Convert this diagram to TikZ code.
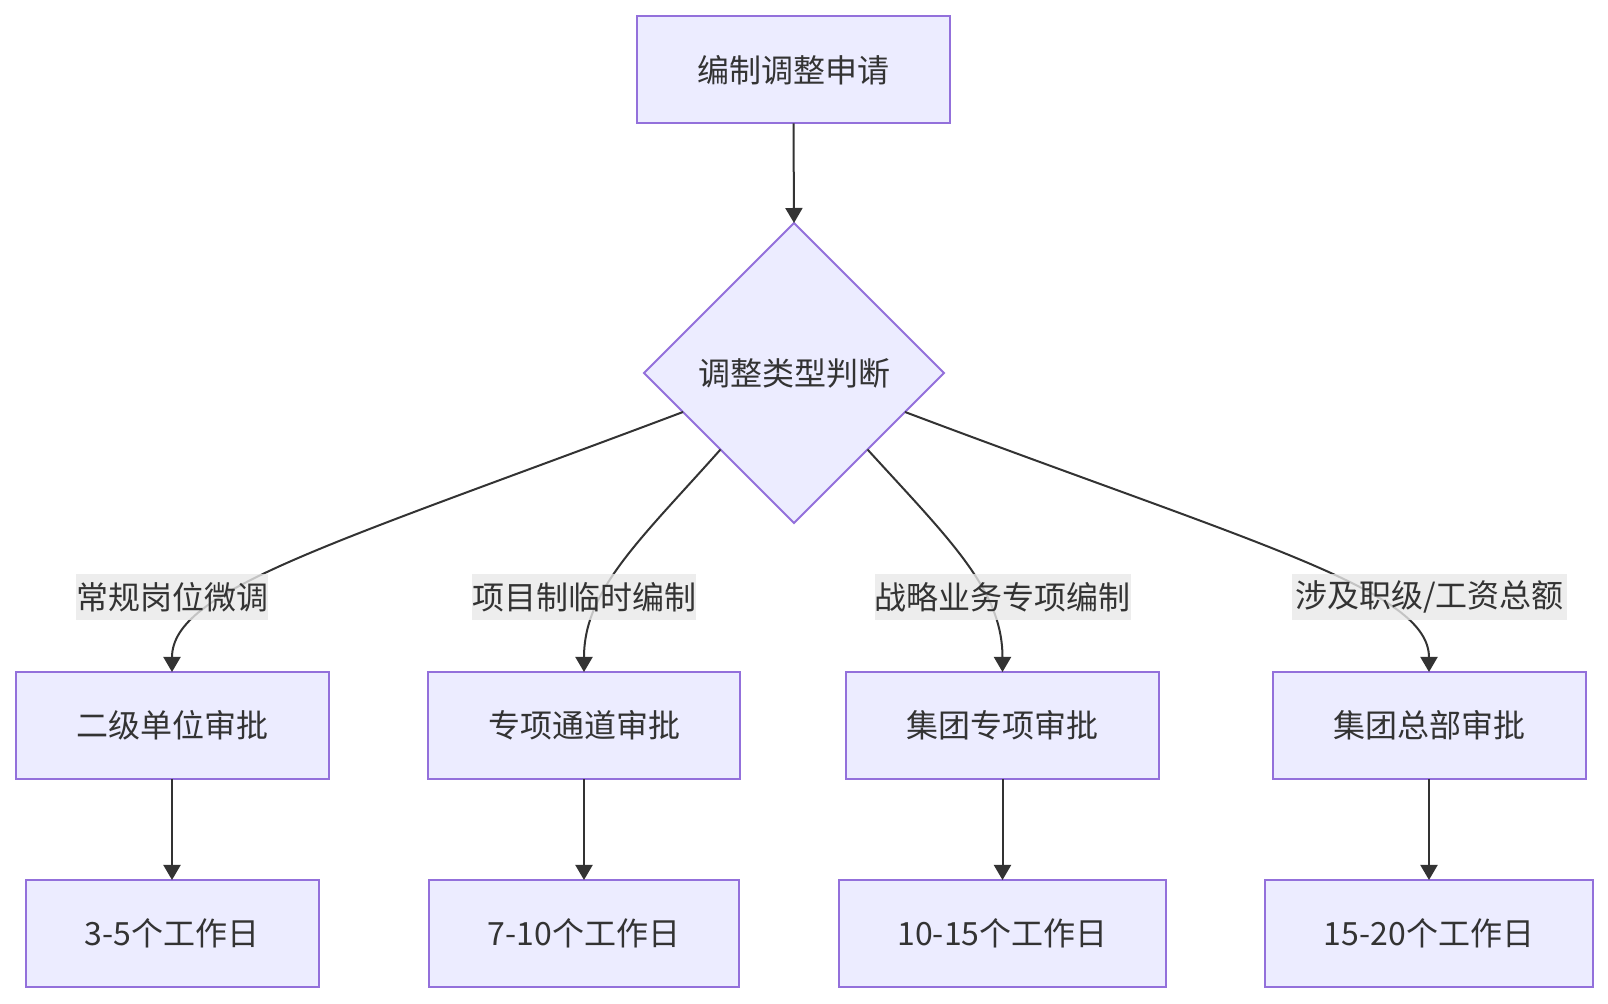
\documentclass[tikz,border=0pt]{standalone}
\usepackage{fontspec}
\setmainfont{Noto Sans CJK SC}
\usetikzlibrary{shapes.geometric,arrows.meta,calc}
\definecolor{boxfill}{HTML}{ECECFF}
\definecolor{boxline}{HTML}{9370DB}
\definecolor{edgec}{HTML}{333333}
\definecolor{lblbg}{HTML}{E8E8E8}
\definecolor{txt}{HTML}{333333}
\tikzset{
  procbox/.style={draw=boxline, fill=boxfill, line width=1pt, text=txt,
    minimum height=53.5pt, inner sep=0pt, outer sep=0pt, font=\fontsize{16pt}{20pt}\selectfont},
  decbox/.style={draw=boxline, fill=boxfill, line width=1pt, text=txt, diamond, aspect=1,
    minimum width=150pt, minimum height=150pt, inner sep=0pt, outer sep=0pt,
    font=\fontsize{16pt}{20pt}\selectfont},
  edgelbl/.style={fill=lblbg, fill opacity=0.8, text opacity=1, text=txt,
    minimum height=23pt, inner sep=0pt, font=\fontsize{16pt}{20pt}\selectfont},
  conn/.style={draw=edgec, line width=1pt, -{Triangle[length=7.5pt,width=8.5pt]}},
}
\begin{document}
\begin{tikzpicture}[x=0.5pt, y=-0.5pt]
\useasboundingbox (0,0) rectangle (1608,1004);
% nodes
\node[procbox, minimum width=156.5pt] (a) at (793.5,70) {编制调整申请};
\node[decbox] (d) at (794,373) {调整类型判断};
\node[procbox, minimum width=156.5pt] (b1) at (172,725.5) {二级单位审批};
\node[procbox, minimum width=156pt] (b2) at (584,725.5) {专项通道审批};
\node[procbox, minimum width=156.5pt] (b3) at (1002.5,725.5) {集团专项审批};
\node[procbox, minimum width=156.5pt] (b4) at (1429,725.5) {集团总部审批};
\node[procbox, minimum width=146.5pt] (c1) at (172,933.5) {3-5个工作日};
\node[procbox, minimum width=155pt] (c2) at (584,933.5) {7-10个工作日};
\node[procbox, minimum width=163.5pt] (c3) at (1002.5,933.5) {10-15个工作日};
\node[procbox, minimum width=164pt] (c4) at (1429,933.5) {15-20个工作日};
% connectors
\draw[conn] (a.south) -- (d.north);
\draw[conn] ($(d.west)!0.26!(d.south)$) .. controls (330,545) and ($(b1.north)+(0,-82)$) .. (b1.north);
\draw[conn] ($(d.west)!0.51!(d.south)$) .. controls (640,540) and ($(b2.north)+(0,-82)$) .. (b2.north);
\draw[conn] ($(d.east)!0.51!(d.south)$) .. controls (950,540) and ($(b3.north)+(0,-82)$) .. (b3.north);
\draw[conn] ($(d.east)!0.26!(d.south)$) .. controls (1258,545) and ($(b4.north)+(0,-82)$) .. (b4.north);
\draw[conn] (b1.south) -- (c1.north);
\draw[conn] (b2.south) -- (c2.north);
\draw[conn] (b3.south) -- (c3.north);
\draw[conn] (b4.south) -- (c4.north);
% edge labels
\node[edgelbl, minimum width=95.5pt] (l1) at (172,597) {常规岗位微调};
\node[edgelbl, minimum width=111pt] (l2) at (584,597) {项目制临时编制};
\node[edgelbl, minimum width=127.5pt] (l3) at (1002.5,597) {战略业务专项编制};
\node[edgelbl, minimum width=137.5pt] (l4) at (1429.5,597) {涉及职级/工资总额};
\end{tikzpicture}
\end{document}
